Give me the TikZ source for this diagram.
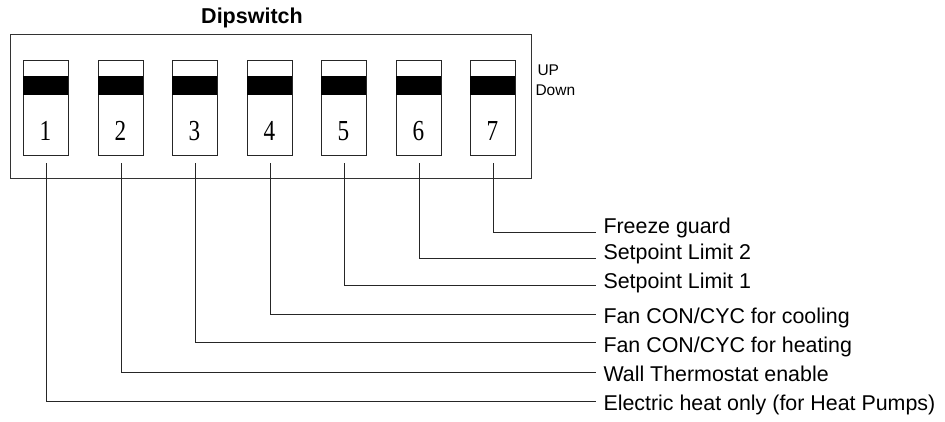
\documentclass[tikz,border=0pt]{standalone}
\usepackage{fontspec}
\setmainfont{Liberation Sans}
\newfontfamily\digitfont[FakeStretch=0.8]{Liberation Serif}
\begin{document}
\begin{tikzpicture}[x=1pt,y=-1pt,
  line width=1pt,
  swbox/.style={draw=black!85, minimum width=45pt, minimum height=95pt, inner sep=0pt, anchor=north west},
  swnum/.style={font=\digitfont\fontsize{29}{29}\selectfont, anchor=base, inner sep=0pt},
  lab/.style={font=\fontsize{21.4}{23}\selectfont, anchor=base west, inner sep=0pt},
  ud/.style={font=\fontsize{15.5}{16}\selectfont, anchor=base west, inner sep=0pt},
  wire/.style={draw=black!85, line width=1pt}]
\useasboundingbox (0,0) rectangle (945,421);
\node[font=\bfseries\fontsize{21.5}{22}\selectfont, anchor=base, inner sep=0pt] (title) at (252,23) {Dipswitch};
\node[draw=black!80, minimum width=521.5pt, minimum height=144pt, inner sep=0pt, anchor=north west] (frame) at (9.5,34) {};
\node[ud] (up) at (537,75) {UP};
\node[ud] (down) at (535,95) {Down};
\foreach \i/\x in {1/23,2/98,3/172,4/247,5/321,6/396,7/470}{
  \node[swbox] (s\i) at (\x,60) {};
  \fill[black] (\x,76) rectangle ++(45,19);
  \node[swnum] (n\i) at (\x+22.5,140) {\i};
}
\foreach \i/\yl/\yb/\t in {
  7/232/233/{Freeze guard},
  6/258/259/{Setpoint Limit 2},
  5/285/288/{Setpoint Limit 1},
  4/314/323/{Fan CON/CYC for cooling},
  3/342/352/{Fan CON/CYC for heating},
  2/372/381/{Wall Thermostat enable},
  1/401/410/{Electric heat only (for Heat Pumps)}}{
  \node[lab] (l\i) at (603,\yb) {\t};
  \coordinate (e\i) at (596,\yl);
  \draw[wire] ([yshift=-7pt]s\i.south) |- (e\i);
}
\end{tikzpicture}
\end{document}
